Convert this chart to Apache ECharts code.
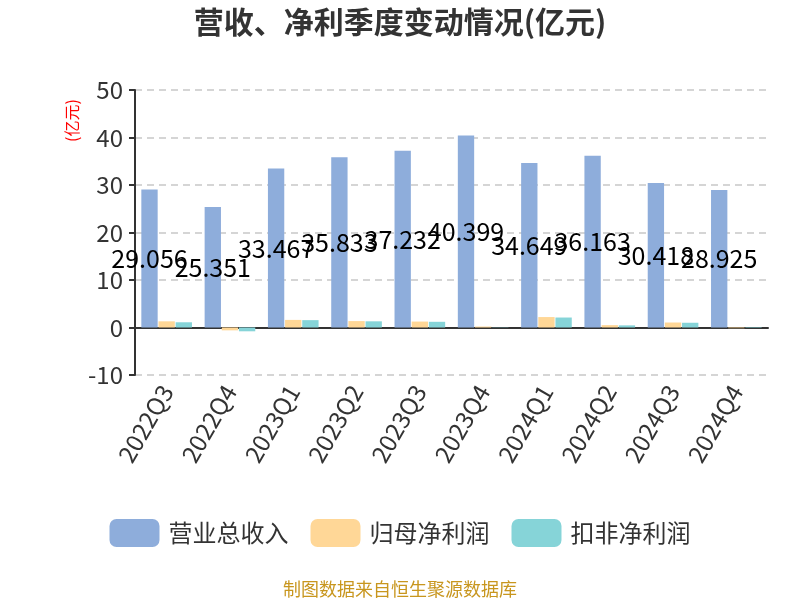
<!DOCTYPE html>
<html><head><meta charset="utf-8">
<script src="https://cdn.jsdelivr.net/npm/echarts@6/dist/echarts.min.js"></script>
<style>html,body{margin:0;padding:0;background:#fff}#c{width:800px;height:600px}</style>
</head><body><div id="c"></div>
<script>
const categories = ['2022Q3','2022Q4','2023Q1','2023Q2','2023Q3','2023Q4','2024Q1','2024Q2','2024Q3','2024Q4'];
const revenue = [29.056,25.351,33.467,35.833,37.232,40.399,34.649,36.163,30.418,28.925];
const netProfit = [1.3,-0.6,1.6,1.35,1.25,0.2,2.2,0.5,1.05,-0.15];
const deductedProfit = [1.1,-0.8,1.55,1.3,1.2,0.05,2.1,0.45,1.0,-0.1];
const seriesNames = ['营业总收入','归母净利润','扣非净利润'];
const font = '"Noto Sans CJK SC", "Noto Sans", sans-serif';
const chart = echarts.init(document.getElementById('c'));
chart.setOption({
  animation:false,
  textStyle:{fontFamily:font},
  title:{text:'营收、净利季度变动情况(亿元)',left:'center',top:2,textStyle:{fontSize:30,fontWeight:'bold',color:'#333',fontFamily:font}},
  legend:{bottom:48,itemWidth:50,itemHeight:28,itemGap:22,textStyle:{fontSize:24,color:'#333',padding:[0,0,0,4]},data:seriesNames},
  graphic:[
    {type:'text',left:'center',bottom:2,style:{text:'制图数据来自恒生聚源数据库',fill:'#c8961e',font:'18px '+font}},
    {type:'text',x:64,y:142,rotation:Math.PI/2,style:{text:'(亿元)',fill:'#ff0000',font:'16px '+font}}
  ],
  grid:{left:135,right:32,top:90,bottom:225},
  xAxis:{type:'category',data:categories,
    axisLine:{lineStyle:{color:'#333',width:2}},
    axisTick:{length:8,lineStyle:{width:2,color:'#333'}},
    axisLabel:{rotate:60,fontSize:24,color:'#333',margin:12}},
  yAxis:{type:'value',min:-10,max:50,interval:10,
    axisLine:{show:true,lineStyle:{color:'#333',width:2}},
    axisTick:{show:true,length:6,lineStyle:{width:2}},
    axisLabel:{fontSize:24,color:'#333',margin:12},
    splitLine:{lineStyle:{type:[7,5],color:'#c8c8c8',width:1.5}}},
  series:[
    {name:seriesNames[0],type:'bar',data:revenue,barGap:'5%',barCategoryGap:'20%',itemStyle:{color:'#8eaddb'},
     label:{show:true,position:'inside',color:'#000',fontSize:25,formatter:p=>p.value.toFixed(3)}},
    {name:seriesNames[1],type:'bar',data:netProfit,itemStyle:{color:'#ffd797'}},
    {name:seriesNames[2],type:'bar',data:deductedProfit,itemStyle:{color:'#86d4d8'}}
  ]
});
</script></body></html>
